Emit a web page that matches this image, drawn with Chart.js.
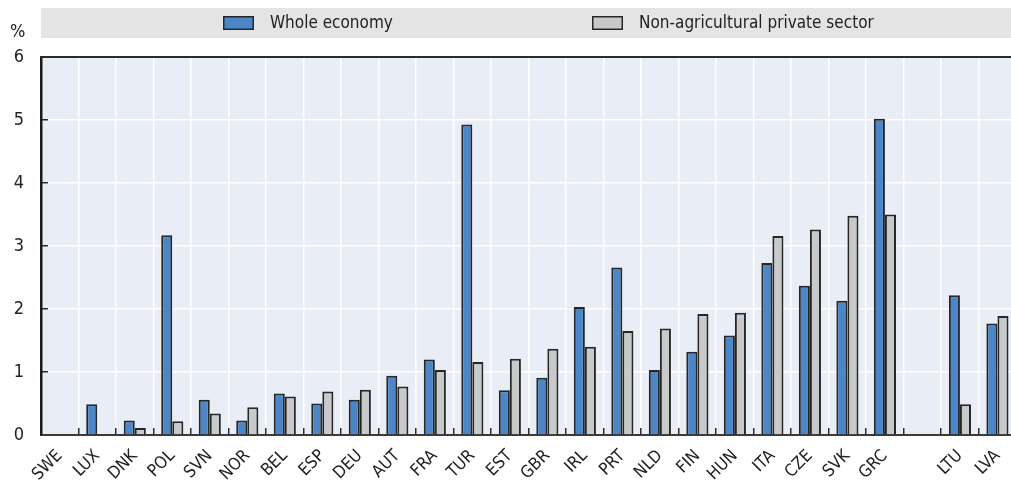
<!DOCTYPE html>
<html>
<head>
<meta charset="utf-8">
<script src="https://cdn.jsdelivr.net/npm/chart.js@4/dist/chart.umd.min.js"></script>
<style>
  html, body { margin: 0; padding: 0; background: #fff; overflow: hidden; width: 1011px; height: 484px; }
  #wrap { position: relative; width: 1030px; height: 484px; }
  canvas { display: block; }
</style>
</head>
<body>
<div id="wrap"><canvas id="chart" width="1030" height="484" style="width:1030px;height:484px"></canvas></div>
<script>
// Countries (empty slot separates the last group)
const categories = ['SWE', 'LUX', 'DNK', 'POL', 'SVN', 'NOR', 'BEL', 'ESP', 'DEU', 'AUT', 'FRA', 'TUR', 'EST',
  'GBR', 'IRL', 'PRT', 'NLD', 'FIN', 'HUN', 'ITA', 'CZE', 'SVK', 'GRC', '', 'LTU', 'LVA'];

// Share in %, whole economy
const wholeEconomy = [0.01, 0.49, 0.23, 3.17, 0.56, 0.23, 0.66, 0.50, 0.56, 0.94, 1.20, 4.93, 0.71,
  0.91, 2.03, 2.66, 1.03, 1.32, 1.58, 2.73, 2.37, 2.13, 5.02, null, 2.22, 1.77];

// Share in %, non-agricultural private sector
const nonAgriPrivate = [0.01, 0.01, 0.11, 0.22, 0.34, 0.44, 0.61, 0.69, 0.72, 0.77, 1.03, 1.16, 1.21,
  1.37, 1.40, 1.65, 1.69, 1.92, 1.94, 3.16, 3.26, 3.48, 3.50, null, 0.49, 1.89];

const seriesNames = ['Whole economy', 'Non-agricultural private sector'];
const yTicks = [0, 1, 2, 3, 4, 5, 6];
const yUnit = '%';

const FONT = '"Liberation Sans Narrow", "DejaVu Sans Condensed", "Arial Narrow", sans-serif';
const BLUE = '#4a86c8';
const GREY = '#c8c9cb';
const EDGE = '#262626';
const TEXT = '#222222';

// Plot background, legend band and unit label
const decorations = {
  id: 'decorations',
  beforeDraw(chart) {
    const { ctx, chartArea: a, width } = chart;
    ctx.save();
    ctx.fillStyle = '#e9edf6';
    ctx.fillRect(a.left, a.top, a.right - a.left, a.bottom - a.top);

    // legend band
    ctx.fillStyle = '#e4e4e4';
    ctx.fillRect(a.left, 8, width - a.left, 30);
    const items = [
      { x: 223, color: BLUE, label: seriesNames[0] },
      { x: 592, color: GREY, label: seriesNames[1] }
    ];
    ctx.font = '17px ' + FONT;
    ctx.textBaseline = 'middle';
    ctx.textAlign = 'left';
    items.forEach(it => {
      ctx.fillStyle = it.color;
      ctx.fillRect(it.x, 16, 31, 14);
      ctx.lineWidth = 1.5;
      ctx.strokeStyle = EDGE;
      ctx.strokeRect(it.x + 0.75, 16.75, 29.5, 12.5);
      ctx.fillStyle = TEXT;
      ctx.fillText(it.label, it.x + 47, 23.5);
    });

    // unit
    ctx.font = '18px ' + FONT;
    ctx.textAlign = 'left';
    ctx.fillText(yUnit, 10, 32);
    ctx.restore();
  },
  afterDatasetsDraw(chart) {
    const { ctx, chartArea: a } = chart;
    ctx.save();
    ctx.strokeStyle = '#2a2a2a';
    ctx.lineWidth = 2;
    ctx.beginPath();
    ctx.moveTo(a.left - 1, a.top);
    ctx.lineTo(a.right, a.top);
    ctx.stroke();
    ctx.restore();
  }
};

new Chart(document.getElementById('chart'), {
  type: 'bar',
  data: {
    labels: categories,
    datasets: [
      {
        label: seriesNames[0],
        data: wholeEconomy,
        backgroundColor: BLUE,
        borderColor: EDGE,
        borderWidth: 2,
        categoryPercentage: 0.59,
        barPercentage: 1.0
      },
      {
        label: seriesNames[1],
        data: nonAgriPrivate,
        backgroundColor: GREY,
        borderColor: EDGE,
        borderWidth: 2,
        categoryPercentage: 0.59,
        barPercentage: 1.0
      }
    ]
  },
  options: {
    responsive: false,
    animation: false,
    layout: { padding: { top: 57, right: 7, bottom: 0, left: 0 } },
    plugins: {
      legend: { display: false },
      tooltip: { enabled: false }
    },
    scales: {
      x: {
        afterFit(scale) { scale.height = 49; },
        grid: {
          color: c => (c.index === 0 ? 'rgba(0,0,0,0)' : '#ffffff'),
          lineWidth: 1.5,
          tickLength: -7,
          tickColor: '#2a2a2a',
          tickWidth: 1.5
        },
        border: { color: '#3a3a3a', width: 2 },
        ticks: {
          autoSkip: false,
          minRotation: 45,
          maxRotation: 45,
          padding: 18,
          color: TEXT,
          font: { family: FONT, size: 17 }
        }
      },
      y: {
        min: 0,
        max: 6,
        afterFit(scale) { scale.width = 41; },
        afterBuildTicks(scale) { scale.ticks = yTicks.map(v => ({ value: v })); },
        grid: {
          color: c => (c.tick.value === 0 || c.tick.value === 6 ? 'rgba(0,0,0,0)' : '#ffffff'),
          lineWidth: 1.5,
          tickLength: -7,
          tickColor: c => (c.tick.value === 0 || c.tick.value === 6 ? 'rgba(0,0,0,0)' : '#2a2a2a'),
          tickWidth: 1.5
        },
        border: { color: '#1a1a1a', width: 2.5 },
        ticks: {
          padding: 24,
          color: TEXT,
          font: { family: FONT, size: 18 }
        }
      }
    }
  },
  plugins: [decorations]
});
</script>
</body>
</html>
